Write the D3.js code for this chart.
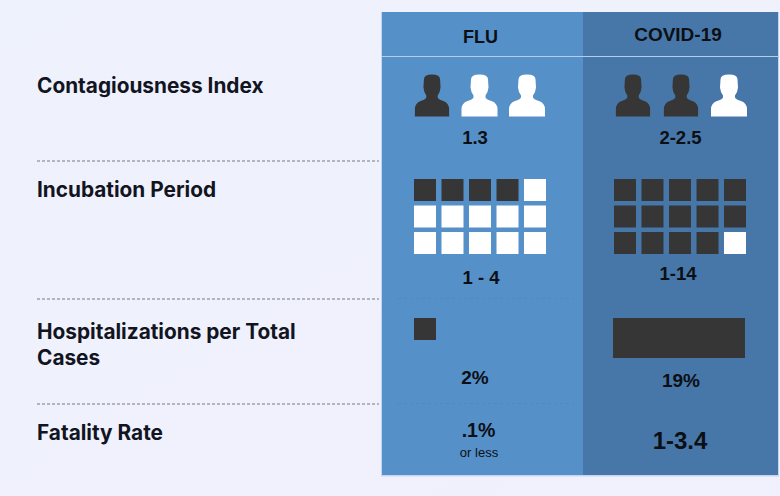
<!DOCTYPE html>
<html>
<head>
<meta charset="utf-8">
<script src="https://cdn.jsdelivr.net/npm/d3@7"></script>
<style>
html, body { margin: 0; padding: 0; background: #eff1fd; }
svg { display: block; }
.val { font-family: "Liberation Sans", Arial, sans-serif; font-weight: 700; fill: #0c0f14; text-anchor: middle; }
.rowlabel { font-family: Inter, sans-serif; font-weight: 700; font-size: 20.8px; fill: #12151f; }
</style>
</head>
<body>
<svg width="780" height="496"></svg>
<script>
// data
var diseases = ['FLU', 'COVID-19'];
var rowLabels = [['Contagiousness Index'], ['Incubation Period'], ['Hospitalizations per Total', 'Cases'], ['Fatality Rate']];
var contagiousFilled = [1, 2];
var contagiousLabels = ['1.3', '2-2.5'];
var incubationFilled = [4, 14];
var incubationLabels = ['1 - 4', '1-14'];
var hospitalPct = [2, 19];
var hospitalLabels = ['2%', '19%'];
var fatalityLabels = ['.1%', '1-3.4'];

var width = 780, height = 496;
var dark = '#363636';

var svg = d3.select('svg');

// background
var grad = svg.append('defs').append('linearGradient').attr('id', 'bg')
  .attr('x1', 0).attr('y1', 0).attr('x2', 1).attr('y2', 1);
grad.append('stop').attr('offset', '0%').attr('stop-color', '#eef2fd');
grad.append('stop').attr('offset', '100%').attr('stop-color', '#f1f0fd');
svg.append('rect').attr('width', width).attr('height', height).attr('fill', 'url(#bg)');

// the two columns
var panelX = [382, 583, 778];
var panelTop = 12, panelBottom = 475;
var fills = ['#5590c8', '#4677a8'];

svg.append('rect')
  .attr('x', panelX[0] - 1).attr('y', panelTop)
  .attr('width', panelX[2] - panelX[0] + 2).attr('height', panelBottom - panelTop + 1.5)
  .attr('fill', '#c3d5f2');

svg.selectAll('.col')
  .data(diseases)
  .enter().append('rect')
  .attr('class', 'col')
  .attr('x', function(d, i) { return panelX[i]; })
  .attr('y', panelTop)
  .attr('width', function(d, i) { return panelX[i + 1] - panelX[i]; })
  .attr('height', panelBottom - panelTop)
  .attr('fill', function(d, i) { return fills[i]; });

svg.append('line')
  .attr('x1', panelX[0]).attr('x2', 779)
  .attr('y1', 56.5).attr('y2', 56.5)
  .attr('stroke', '#b4cde8').attr('stroke-width', 1);

// dashed row separators
var sepY = [161, 299, 404];
svg.selectAll('.sep')
  .data(sepY)
  .enter().append('line')
  .attr('class', 'sep')
  .attr('x1', 37).attr('x2', 379)
  .attr('y1', function(d) { return d; }).attr('y2', function(d) { return d; })
  .attr('stroke', '#787982').attr('stroke-width', 1.2)
  .attr('stroke-dasharray', '3 2');

svg.selectAll('.sepfaint')
  .data(sepY.slice(1))
  .enter().append('line')
  .attr('class', 'sepfaint')
  .attr('x1', 398).attr('x2', 574)
  .attr('y1', function(d) { return d - 0.5; }).attr('y2', function(d) { return d - 0.5; })
  .attr('stroke', '#5189c0').attr('stroke-width', 1)
  .attr('stroke-dasharray', '3 3');

// row labels
var labelY = [93, 197, 339, 440];
rowLabels.forEach(function(lines, i) {
  svg.selectAll(null)
    .data(lines)
    .enter().append('text')
    .attr('class', 'rowlabel')
    .attr('x', 37)
    .attr('y', function(d, j) { return labelY[i] + j * 26; })
    .text(function(d) { return d; });
});

function value(x, y, size, txt) {
  svg.append('text').attr('class', 'val')
    .attr('x', x).attr('y', y)
    .style('font-size', size + 'px')
    .text(txt);
}

// headers
value(480.5, 43, 18, diseases[0]);
value(678, 41, 19, diseases[1]);

// contagiousness people
var personPath = 'M-8.5,5 Q-8.5,0 0,0 Q8.5,0 8.5,5 L9,13 Q8.5,18 6,21 L6,23 Q7,25 12,26.5 Q18,28.5 18,35 L18,42 L-18,42 L-18,35 Q-18,28.5 -12,26.5 Q-7,25 -6,23 L-6,21 Q-8.5,18 -9,13 Z';
var personRange = [[432, 527], [633, 729]];
var personIdx = [0, 1, 2];

diseases.forEach(function(name, c) {
  var x = d3.scalePoint().domain(personIdx).range(personRange[c]);
  svg.selectAll('.person' + c)
    .data(personIdx)
    .enter().append('path')
    .attr('class', 'person' + c)
    .attr('d', personPath)
    .attr('transform', function(d) {
      var on = d < contagiousFilled[c];
      return 'translate(' + x(d) + ',74.5) scale(' + (on ? 0.95 : 1) + ',1)';
    })
    .attr('fill', function(d) { return d < contagiousFilled[c] ? dark : '#fff'; });
});

// incubation grid, 15 squares per column
var gridRange = [[414, 546], [614, 746]];
var cols = d3.range(5), rows = d3.range(3);
var gridY = d3.scaleBand().domain(rows).range([179, 254]).paddingInner(0.17);

diseases.forEach(function(name, c) {
  var gridX = d3.scaleBand().domain(cols).range(gridRange[c]).paddingInner(0.2);
  svg.selectAll('.cell' + c)
    .data(d3.range(15))
    .enter().append('rect')
    .attr('class', 'cell' + c)
    .attr('x', function(d) { return gridX(d % 5); })
    .attr('y', function(d) { return gridY(Math.floor(d / 5)); })
    .attr('width', gridX.bandwidth())
    .attr('height', gridY.bandwidth())
    .attr('fill', function(d) { return d < incubationFilled[c] ? dark : '#fff'; });
});

// hospitalizations bars
var barW = d3.scaleLinear().domain([2, 19]).range([22, 132]);
var barH = d3.scaleLinear().domain([2, 19]).range([22, 40]);
var barLeft = d3.scaleOrdinal().domain(diseases).range([414, 613]);

svg.selectAll('.hosp')
  .data(hospitalPct)
  .enter().append('rect')
  .attr('class', 'hosp')
  .attr('x', function(d, i) { return barLeft(diseases[i]); })
  .attr('y', 318)
  .attr('width', function(d) { return barW(d); })
  .attr('height', function(d) { return barH(d); })
  .attr('fill', dark);

// value labels
value(475, 144, 18.5, contagiousLabels[0]);
value(680.5, 144, 18.5, contagiousLabels[1]);
value(481, 284, 18.5, incubationLabels[0]);
value(678, 280, 18.5, incubationLabels[1]);
value(475, 384, 19, hospitalLabels[0]);
value(681, 387, 19, hospitalLabels[1]);
value(478.5, 437, 19.5, fatalityLabels[0]);
value(680, 449, 24, fatalityLabels[1]);

svg.append('text').attr('class', 'val')
  .attr('x', 479).attr('y', 457)
  .style('font-size', '13px').style('font-weight', 400)
  .text('or less');
</script>
</body>
</html>
